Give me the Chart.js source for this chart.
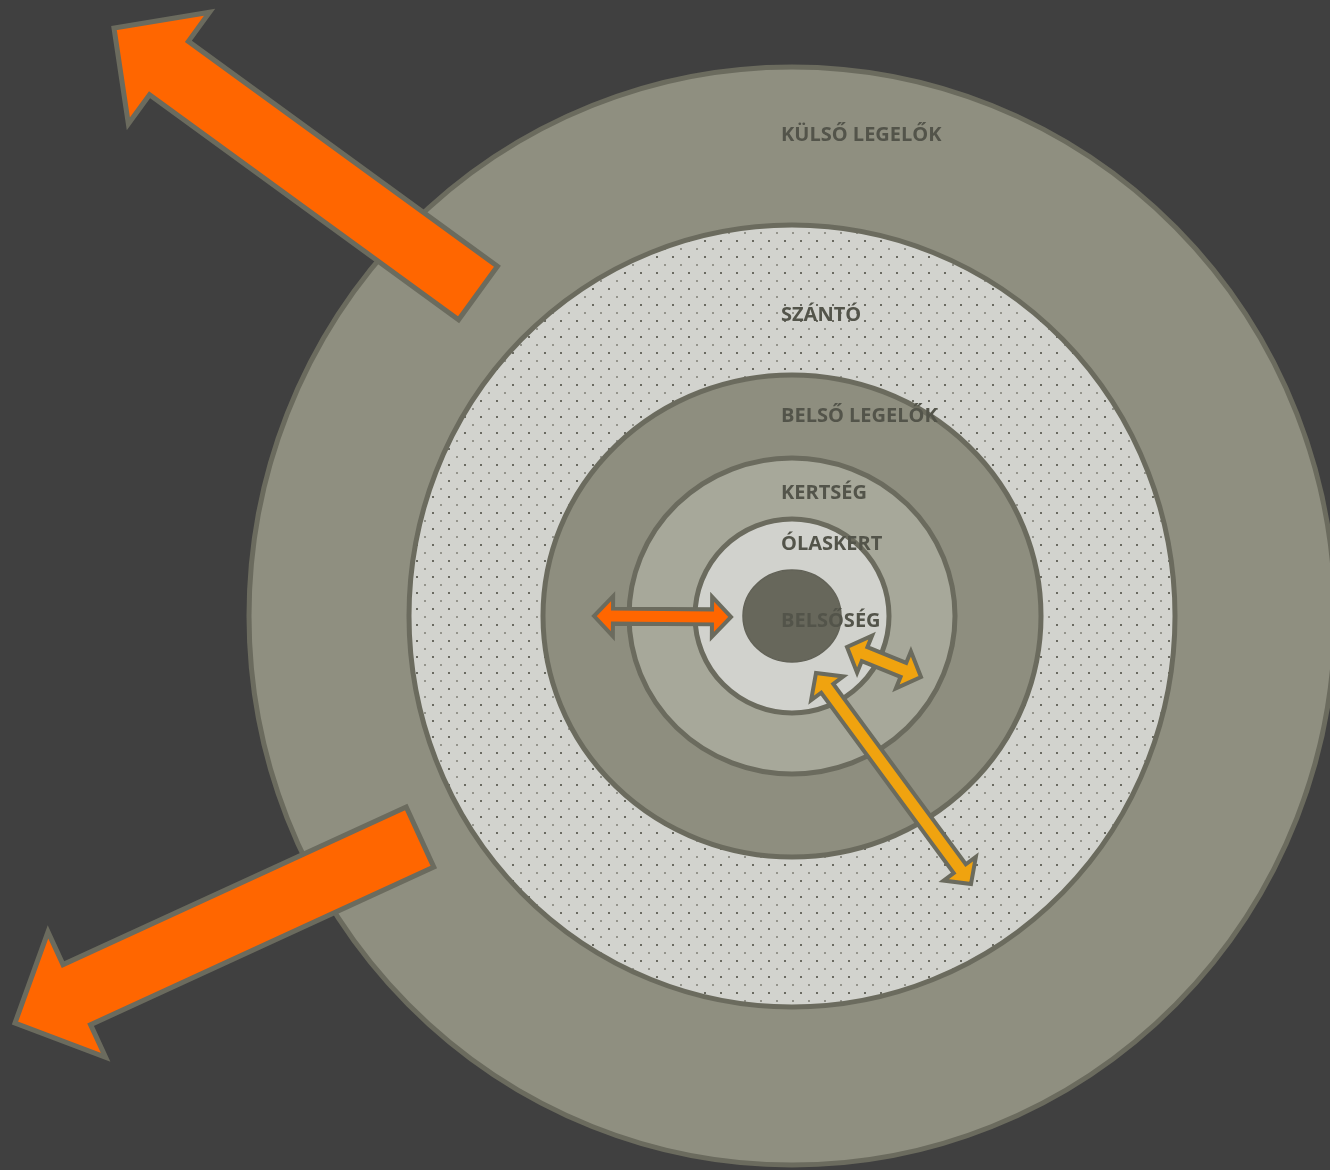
<!DOCTYPE html>
<html>
<head>
<meta charset="utf-8">
<script src="https://cdn.jsdelivr.net/npm/chart.js@4.4.0/dist/chart.umd.min.js"></script>
<style>
  html, body { margin: 0; padding: 0; background: #404040; overflow: hidden; }
  #wrap { width: 1330px; height: 1170px; }
</style>
</head>
<body>
<div id="wrap"><canvas id="zones" width="1330" height="1170"></canvas></div>
<script>
// zones, outside in
const zoneNames = ['KÜLSŐ LEGELŐK', 'SZÁNTÓ', 'BELSŐ LEGELŐK', 'KERTSÉG', 'ÓLASKERT', 'BELSŐSÉG'];
const zoneRadiusX = [543, 383, 249, 163, 97, 49];
const zoneRadiusY = [549, 391, 241, 158, 97, 46];
const zoneCenter = [792, 616];

// arrows: start -> end (head at end, both ends if double)
const arrowStart = [[478, 293], [420, 837], [594, 616], [847, 647], [816, 673]];
const arrowEnd = [[114, 28], [15, 1023], [731, 617], [921, 677], [971, 884]];
const arrowDouble = [false, false, true, true, true];
const arrowKind = ['big', 'big', 'small', 'small', 'small'];

// styling / layout
const zoneFill = ['#8f8f80', 'dots', '#8e8e7f', '#a7a89a', '#d1d2cd', '#67675b'];
const labelX = 781;
const labelY = [141, 321, 422, 499, 550, 627];
const arrowSizes = {
    big: { shaft: 66, head: 138, headLen: 68, line: 5 },
    small: { shaft: 15, head: 40, headLen: 19, line: 4 }
};
const arrowFill = ['#ff6600', '#ff6600', '#ff6600', '#f0a30f', '#f0a30f'];
const outline = '#6b6b5e';

function dotPattern(ctx) {
    const c = document.createElement('canvas');
    c.width = 16; c.height = 16;
    const g = c.getContext('2d');
    g.fillStyle = '#d2d3ce';
    g.fillRect(0, 0, 16, 16);
    g.fillStyle = '#6a6a61';
    g.fillRect(0, 0, 2, 2);
    g.fillStyle = '#94948c';
    g.fillRect(8, 8, 2, 2);
    return ctx.createPattern(c, 'repeat');
}

function drawArrow(ctx, a, b, double, size, fill) {
    const dx = b[0] - a[0], dy = b[1] - a[1];
    const len = Math.hypot(dx, dy);
    const ux = dx / len, uy = dy / len;
    const nx = -uy, ny = ux;
    const s = size.shaft / 2, h = size.head / 2, L = size.headLen;
    const pt = (base, along, side) => [base[0] + ux * along + nx * side, base[1] + uy * along + ny * side];
    let pts;
    if (double) {
        pts = [
            a, pt(a, L, h), pt(a, L, s), pt(b, -L, s), pt(b, -L, h), b,
            pt(b, -L, -h), pt(b, -L, -s), pt(a, L, -s), pt(a, L, -h)
        ];
    } else {
        pts = [
            pt(a, 0, s), pt(b, -L, s), pt(b, -L, h), b,
            pt(b, -L, -h), pt(b, -L, -s), pt(a, 0, -s)
        ];
    }
    ctx.beginPath();
    pts.forEach((p, i) => i ? ctx.lineTo(p[0], p[1]) : ctx.moveTo(p[0], p[1]));
    ctx.closePath();
    ctx.fillStyle = fill;
    ctx.fill();
    ctx.lineJoin = 'miter';
    ctx.lineWidth = size.line;
    ctx.strokeStyle = outline;
    ctx.stroke();
}

const zonePlugin = {
    id: 'zoneRings',
    beforeDatasetsDraw(chart) {
        const { ctx, scales: { x, y } } = chart;
        ctx.save();
        const cx = x.getPixelForValue(zoneCenter[0]);
        const cy = y.getPixelForValue(zoneCenter[1]);
        zoneNames.forEach((name, i) => {
            const rx = Math.abs(x.getPixelForValue(zoneCenter[0] + zoneRadiusX[i]) - cx);
            const ry = Math.abs(y.getPixelForValue(zoneCenter[1] + zoneRadiusY[i]) - cy);
            ctx.beginPath();
            ctx.ellipse(cx, cy, rx, ry, 0, 0, Math.PI * 2);
            ctx.fillStyle = zoneFill[i] === 'dots' ? dotPattern(ctx) : zoneFill[i];
            ctx.fill();
            ctx.lineWidth = i === zoneNames.length - 1 ? 1.5 : 5;
            ctx.strokeStyle = i === zoneNames.length - 1 ? '#626257' : outline;
            ctx.stroke();
        });

        arrowStart.forEach((s, i) => {
            const a = [x.getPixelForValue(s[0]), y.getPixelForValue(s[1])];
            const b = [x.getPixelForValue(arrowEnd[i][0]), y.getPixelForValue(arrowEnd[i][1])];
            drawArrow(ctx, a, b, arrowDouble[i], arrowSizes[arrowKind[i]], arrowFill[i]);
        });
        ctx.restore();
    },
    afterDatasetsDraw(chart) {
        const { ctx } = chart;
        const meta = chart.getDatasetMeta(0);
        ctx.save();
        ctx.font = 'bold 20px "Open Sans"';
        ctx.fillStyle = '#53544a';
        ctx.textBaseline = 'alphabetic';
        meta.data.forEach((pt, i) => {
            ctx.fillText(zoneNames[i], pt.x, pt.y);
        });
        ctx.restore();
    }
};

new Chart(document.getElementById('zones'), {
    type: 'scatter',
    data: {
        datasets: [{
            data: zoneNames.map((n, i) => ({ x: labelX, y: labelY[i] })),
            pointRadius: 0
        }]
    },
    options: {
        responsive: false,
        animation: false,
        layout: { padding: 0 },
        plugins: { legend: { display: false }, tooltip: { enabled: false } },
        scales: {
            x: { type: 'linear', min: 0, max: 1330, display: false },
            y: { type: 'linear', min: 0, max: 1170, reverse: true, display: false }
        }
    },
    plugins: [zonePlugin]
});
</script>
</body>
</html>
